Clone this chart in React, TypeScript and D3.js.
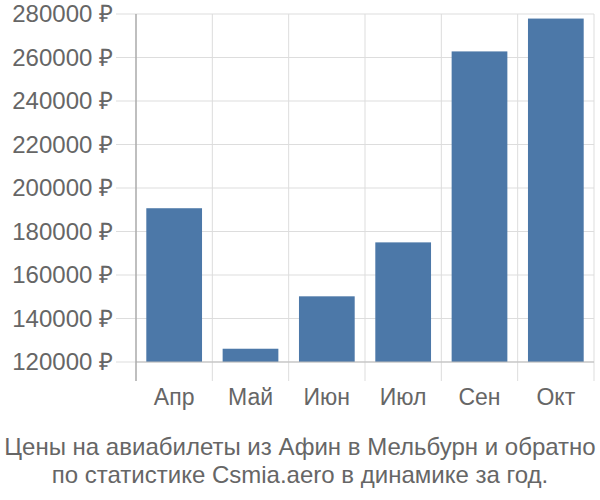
import React from "react";
import * as d3 from "d3";

const months = ["Апр", "Май", "Июн", "Июл", "Сен", "Окт"];
const prices = [190700, 126100, 150200, 175000, 262800, 277900];
const yTicks = [120000, 140000, 160000, 180000, 200000, 220000, 240000, 260000, 280000];
const titleLines = [
  "Цены на авиабилеты из Афин в Мельбурн и обратно",
  "по статистике Csmia.aero в динамике за год.",
];

const W = 600;
const H = 500;
const left = 136;
const right = 594;
const top = 14;
const bottom = 381;
const FONT = "'Liberation Sans', Arial, sans-serif";

export default function App() {
  const y = d3.scaleLinear().domain([120000, 280000]).range([362, top]);
  const yMinPx = y(120000);
  const x = d3.scaleBand<string>().domain(months).range([left, right]).padding(0);
  const inset = x.bandwidth() * 0.135;
  return (
    <svg width={W} height={H} style={{ position: "absolute", left: 0, top: 0, background: "#fff" }}>
      {yTicks.map((t) => (
        <g key={t}>
          <line x1={116} x2={right} y1={y(t)} y2={y(t)} stroke="#dddddd" strokeWidth={1} />
          <text x={113} y={y(t)} dy="0.35em" textAnchor="end" fontFamily={FONT} fontSize={24} fill="#666">
            {`${t} ₽`}
          </text>
        </g>
      ))}
      {months.map((m) => (
        <line key={m} x1={(x(m) as number) + x.bandwidth()} x2={(x(m) as number) + x.bandwidth()} y1={top} y2={bottom} stroke="#dddddd" strokeWidth={1} />
      ))}
      {months.map((m, i) => (
        <rect
          key={m}
          x={(x(m) as number) + inset}
          width={x.bandwidth() - 2 * inset}
          y={y(prices[i])}
          height={yMinPx - y(prices[i])}
          fill="#4c78a8"
        />
      ))}
      <line x1={left} x2={right} y1={yMinPx} y2={yMinPx} stroke="#bbbbbb" strokeWidth={1} />
      <line x1={left} x2={left} y1={top} y2={bottom} stroke="#aaaaaa" strokeWidth={1.5} />
      {months.map((m) => (
        <text
          key={m}
          x={(x(m) as number) + x.bandwidth() / 2}
          y={405}
          textAnchor="middle"
          fontFamily={FONT}
          fontSize={23}
          fill="#666"
        >
          {m}
        </text>
      ))}
      {titleLines.map((l, i) => (
        <text key={i} x={W / 2} y={455 + i * 28} textAnchor="middle" fontFamily={FONT} fontSize={24} fill="#666">
          {l}
        </text>
      ))}
    </svg>
  );
}
